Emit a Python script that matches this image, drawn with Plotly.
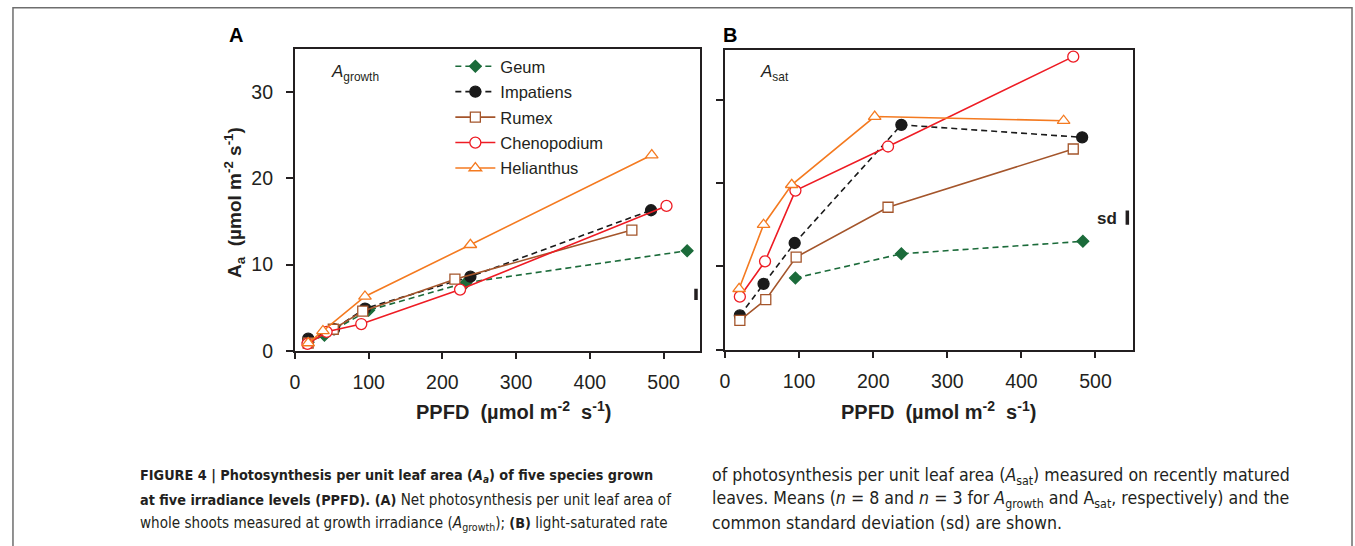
import plotly.graph_objects as go

W, H = 1355, 546

species = ["Geum", "Impatiens", "Rumex", "Chenopodium", "Helianthus"]

# Panel A: A_growth vs PPFD
geum_A_x = [18, 40, 100, 232, 532]
geum_A_y = [1.0, 1.8, 4.7, 7.9, 11.6]
impatiens_A_x = [18, 53, 95, 238, 483]
impatiens_A_y = [1.4, 2.5, 4.9, 8.6, 16.3]
rumex_A_x = [18, 52, 92, 217, 457]
rumex_A_y = [0.9, 2.5, 4.6, 8.3, 14.0]
chenopodium_A_x = [17, 43, 90, 224, 504]
chenopodium_A_y = [0.8, 2.2, 3.1, 7.1, 16.8]
helianthus_A_x = [18, 38, 95, 238, 484]
helianthus_A_y = [0.9, 2.3, 6.3, 12.3, 22.7]

# Panel B: A_sat vs PPFD
geum_B_x = [95, 238, 483]
geum_B_y = [8.6, 11.5, 13.0]
impatiens_B_x = [20, 52, 94, 238, 482]
impatiens_B_y = [4.1, 7.9, 12.8, 27.0, 25.5]
rumex_B_x = [20, 55, 96, 220, 470]
rumex_B_y = [3.5, 6.0, 11.1, 17.1, 24.1]
chenopodium_B_x = [20, 54, 95, 220, 470]
chenopodium_B_y = [6.35, 10.6, 19.1, 24.4, 35.2]
helianthus_B_x = [19, 52, 90, 202, 457]
helianthus_B_y = [7.3, 15.0, 19.8, 28.0, 27.5]

# common standard deviation bars
sd_x = [544, 543]
sd_base = [5.9, 15.0]
sd_value = [1.3, 1.7]

x_ticks = [0, 100, 200, 300, 400, 500]
y_ticks = [0, 10, 20, 30]

INK = "#231f20"
styles = {
    "Geum": dict(color="#1b6b3a", dash="6px,4px", symbol="diamond", fill="#1b6b3a", size=9),
    "Impatiens": dict(color="#1a1a1a", dash="6px,4px", symbol="circle", fill="#1a1a1a", size=11),
    "Rumex": dict(color="#a4552b", dash="solid", symbol="square", fill="white", size=10),
    "Chenopodium": dict(color="#ee1c24", dash="solid", symbol="circle", fill="white", size=11),
    "Helianthus": dict(color="#f47a20", dash="solid", symbol="triangle-up", fill="white", size=11),
}

data_A = {
    "Geum": (geum_A_x, geum_A_y),
    "Impatiens": (impatiens_A_x, impatiens_A_y),
    "Rumex": (rumex_A_x, rumex_A_y),
    "Chenopodium": (chenopodium_A_x, chenopodium_A_y),
    "Helianthus": (helianthus_A_x, helianthus_A_y),
}
data_B = {
    "Geum": (geum_B_x, geum_B_y),
    "Impatiens": (impatiens_B_x, impatiens_B_y),
    "Rumex": (rumex_B_x, rumex_B_y),
    "Chenopodium": (chenopodium_B_x, chenopodium_B_y),
    "Helianthus": (helianthus_B_x, helianthus_B_y),
}

fig = go.Figure()

for panel, data, xa, ya, show in [("A", data_A, "x", "y", True), ("B", data_B, "x2", "y2", False)]:
    for sp in species:
        st = styles[sp]
        xs, ys = data[sp]
        fig.add_trace(go.Scatter(
            x=xs, y=ys, name=sp, legendgroup=sp, showlegend=show,
            xaxis=xa, yaxis=ya, mode="lines+markers",
            line=dict(color=st["color"], width=1.6, dash=st["dash"]),
            marker=dict(symbol=st["symbol"], size=st["size"], color=st["fill"],
                        line=dict(color=st["color"], width=1.3)),
            cliponaxis=False,
        ))

for i, (xa, ya) in enumerate([("x", "y"), ("x2", "y2")]):
    fig.add_trace(go.Scatter(
        x=[sd_x[i], sd_x[i]], y=[sd_base[i], sd_base[i] + sd_value[i]],
        xaxis=xa, yaxis=ya, mode="lines", showlegend=False,
        line=dict(color=INK, width=3.5), cliponaxis=False, hoverinfo="skip",
    ))

def px_x(p):
    return p / W

def px_y(p):
    return 1 - p / H

axis_common = dict(
    showline=True, linewidth=2, linecolor=INK, mirror=True,
    ticks="outside", tickwidth=1.5, tickcolor=INK,
    showgrid=False, zeroline=False,
    tickfont=dict(size=19.5, color=INK),
)

fig.update_layout(
    width=W, height=H,
    margin=dict(l=0, r=0, t=0, b=0),
    paper_bgcolor="white", plot_bgcolor="white",
    font=dict(family="Liberation Sans, Arial, sans-serif", color=INK),
    showlegend=True,
    xaxis=dict(domain=[px_x(291), px_x(698)], anchor="y", range=[0, 550],
               tickvals=x_ticks, ticklen=6, ticklabelstandoff=7, **axis_common),
    yaxis=dict(domain=[px_y(358), px_y(50)], anchor="x", range=[0, 35],
               tickvals=y_ticks, ticklen=7, ticklabelstandoff=9, **axis_common),
    xaxis2=dict(domain=[px_x(722.7), px_x(1131.7)], anchor="y2", range=[0, 550],
                tickvals=x_ticks, ticklen=6, ticklabelstandoff=7, **axis_common),
    yaxis2=dict(domain=[px_y(356.7), px_y(51)], anchor="x2", range=[0, 36],
                tickvals=y_ticks, ticklen=7, showticklabels=False, **axis_common),
    legend=dict(x=px_x(447), y=px_y(50), xanchor="left", yanchor="top",
                bgcolor="rgba(0,0,0,0)", font=dict(size=16.5, color=INK),
                itemwidth=40, tracegroupgap=1),
)

ann = []
title_x = "<b>PPFD&nbsp;&nbsp;(µmol m<sup>-2</sup>&nbsp;&nbsp;s<sup>-1</sup>)</b>"
ann.append(dict(text=title_x, x=px_x(510), y=px_y(419), xref="paper", yref="paper",
                showarrow=False, xanchor="center", yanchor="middle", font=dict(size=20, color=INK)))
ann.append(dict(text=title_x, x=px_x(937), y=px_y(419), xref="paper", yref="paper",
                showarrow=False, xanchor="center", yanchor="middle", font=dict(size=20, color=INK)))
ann.append(dict(text="<b>A<sub>a</sub>&nbsp;&nbsp;(µmol m<sup>-2</sup> s<sup>-1</sup>)</b>",
                x=px_x(231), y=px_y(207), xref="paper", yref="paper", textangle=-90,
                showarrow=False, xanchor="center", yanchor="middle", font=dict(size=19, color=INK)))
ann.append(dict(text="<b>A</b>", x=px_x(223), y=px_y(36), xref="paper", yref="paper",
                showarrow=False, xanchor="left", yanchor="middle", font=dict(size=20, color="black")))
ann.append(dict(text="<b>B</b>", x=px_x(719), y=px_y(36), xref="paper", yref="paper",
                showarrow=False, xanchor="left", yanchor="middle", font=dict(size=20, color="black")))
ann.append(dict(text="<i>A</i><sub>growth</sub>", x=px_x(325), y=px_y(74), xref="paper", yref="paper",
                showarrow=False, xanchor="left", yanchor="middle", font=dict(size=17, color=INK)))
ann.append(dict(text="<i>A</i><sub>sat</sub>", x=px_x(756), y=px_y(74), xref="paper", yref="paper",
                showarrow=False, xanchor="left", yanchor="middle", font=dict(size=17, color=INK)))
ann.append(dict(text="<b>sd</b>", x=px_x(1118), y=px_y(223), xref="paper", yref="paper",
                showarrow=False, xanchor="right", yanchor="middle", font=dict(size=17, color=INK)))

CAP_FAM = "DejaVu Sans Condensed, Liberation Sans, sans-serif"
left_font = dict(family=CAP_FAM, size=15.1, color=INK)
right_font = dict(family=CAP_FAM, size=17.6, color=INK)

def bold(t):
    return '<span style="font-size:14.3px"><b>' + t + '</b></span>'

left_lines = [
    bold("FIGURE 4 | Photosynthesis per unit leaf area (<i>A<sub>a</sub></i>) of five species grown"),
    bold("at five irradiance levels (PPFD). (A)") + " Net photosynthesis per unit leaf area of",
    "whole shoots measured at growth irradiance (<i>A</i><sub>growth</sub>); " + bold("(B)") + " light-saturated rate",
]
right_lines = [
    "of photosynthesis per unit leaf area (<i>A</i><sub>sat</sub>) measured on recently matured",
    "leaves. Means (<i>n</i> = 8 and <i>n</i> = 3 for <i>A</i><sub>growth</sub> and A<sub>sat</sub>, respectively) and the",
    "common standard deviation (sd) are shown.",
]
for i, t in enumerate(left_lines):
    ann.append(dict(text=t, x=px_x(133), y=px_y(486 + 24 * i), xref="paper", yref="paper",
                    showarrow=False, xanchor="left", yanchor="middle", font=left_font))
for i, t in enumerate(right_lines):
    ann.append(dict(text=t, x=px_x(708), y=px_y(486 + 24 * i), xref="paper", yref="paper",
                    showarrow=False, xanchor="left", yanchor="middle", font=right_font))
fig.update_layout(annotations=ann)

fig.add_shape(type="rect", xref="paper", yref="paper",
              x0=px_x(8), x1=px_x(1352), y0=px_y(570), y1=px_y(8),
              line=dict(color="#6e6e6e", width=1.5), fillcolor="rgba(0,0,0,0)", layer="below")

fig.write_html("out.html")
